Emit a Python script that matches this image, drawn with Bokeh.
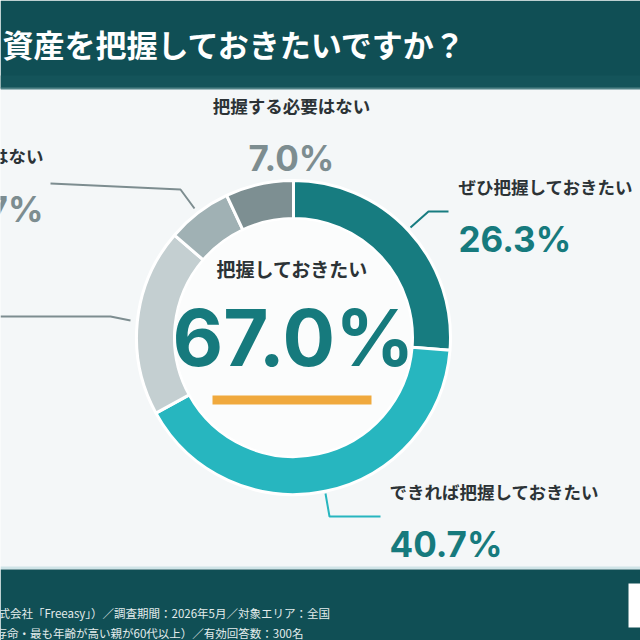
import numpy as np
from bokeh.plotting import figure
from bokeh.models import Range1d
from bokeh.core.properties import value
from bokeh.embed import file_html
from bokeh.resources import INLINE

# ---------------- data ----------------
title_text = "資産を把握しておきたいですか？"
categories = ["ぜひ把握しておきたい", "できれば把握しておきたい", "わからない",
              "あまり把握する必要はない", "把握する必要はない"]
values = [26.3, 40.7, 19.3, 6.7, 7.0]
center_label = "把握しておきたい"
center_value = values[0] + values[1]
footer_lines = ["式会社「Freeasy」）／調査期間：2026年5月／対象エリア：全国",
                "存命・最も年齢が高い親が60代以上）／有効回答数：300名"]

# ---------------- style ----------------
seg_colors = ["#177c80", "#27b6bf", "#c4cfd1", "#a0b1b4", "#7d8f92"]
pct_colors = ["#167a7d", "#167a7d", "#9aa9ac", "#7d8d90", "#7d8d90"]
W = H = 640
BG = "#f4f7f8"
DARK = "#104f55"
TXT = "#2c3336"
JP = "Noto Sans CJK JP"
NUM = "Inter"


def Y(y):
    return H - y


p = figure(width=W, height=H, x_range=Range1d(0, W), y_range=Range1d(0, H),
           output_backend="svg", toolbar_location=None, min_border=0)
p.axis.visible = False
p.grid.visible = False
p.outline_line_color = None
p.background_fill_color = BG
p.border_fill_color = BG

# header / footer
p.quad(left=[0], right=[W], top=[Y(0)], bottom=[Y(88)], fill_color=DARK, line_color=None)
p.quad(left=[0], right=[W], top=[Y(75)], bottom=[Y(88)], fill_color="#14545a", line_color=None)
p.quad(left=[0], right=[W], top=[Y(87)], bottom=[Y(89)], fill_color="#4f8286", line_color=None)
p.quad(left=[0], right=[W], top=[Y(566)], bottom=[Y(569)], fill_color="#cfe4e7", line_color=None)
p.quad(left=[0], right=[W], top=[Y(569)], bottom=[Y(640)], fill_color=DARK, line_color=None)
p.quad(left=[628], right=[W], top=[Y(583)], bottom=[Y(627)], fill_color="#ffffff", line_color=None)

p.text(x=[2], y=[Y(43)], text=[title_text], text_font=value(JP), text_font_size=value("31px"),
       text_font_style="bold", text_color="#ffffff", text_align="left", text_baseline="middle")

p.text(x=[-2, -5], y=[Y(612), Y(632)], text=footer_lines, text_font=value(JP),
       text_font_size=value("11.5px"), text_color="#e3ecec", text_align="left",
       text_baseline="middle")

# donut
cx, cy = 293, 337
r_out, r_in = 157, 119
cum = np.concatenate([[0], np.cumsum(values)]) / sum(values)
starts = np.pi / 2 - 2 * np.pi * cum[:-1]
ends = np.pi / 2 - 2 * np.pi * cum[1:]
p.annular_wedge(x=cx, y=Y(cy), inner_radius=r_in, outer_radius=r_out,
                inner_radius_units="screen", outer_radius_units="screen",
                start_angle=list(starts), end_angle=list(ends), direction="clock",
                fill_color=seg_colors, line_color="#ffffff", line_width=3)
p.scatter(x=[cx], y=[Y(cy)], size=2 * (r_in - 1), marker="circle",
          fill_color="#fbfcfc", line_color=None)

# center
p.text(x=[cx - 1], y=[Y(268)], text=[center_label], text_font=value(JP),
       text_font_size=value("19px"), text_font_style="bold", text_color=TXT,
       text_align="center", text_baseline="middle")
p.text(x=[cx], y=[Y(337)], text=[f"{center_value:.1f}%"], text_font=value(NUM),
       text_font_size=value("78px"), text_font_style="bold", text_color="#167a7d",
       text_align="center", text_baseline="middle")
p.quad(left=[212], right=[371], top=[Y(395)], bottom=[Y(404)], fill_color="#f0a93d",
       line_color=None)

# labels (layout); the "わからない" label lies outside the visible crop, as in the reference
shown = [0, 1, 3, 4]
lab_x = {0: 458, 1: 389, 3: 43, 4: 291}
lab_y = {0: 186, 1: 491, 3: 155, 4: 105}
pct_y = {0: 238, 1: 543, 3: 208, 4: 157}
lab_align = {0: "left", 1: "left", 3: "right", 4: "center"}
for i in shown:
    p.text(x=[lab_x[i]], y=[Y(lab_y[i])], text=[categories[i]], text_font=value(JP),
           text_font_size=value("17.5px"), text_font_style="bold", text_color=TXT,
           text_align=lab_align[i], text_baseline="middle")
    p.text(x=[lab_x[i]], y=[Y(pct_y[i])], text=[f"{values[i]:.1f}%"], text_font=value(NUM),
           text_font_size=value("35px"), text_font_style="bold", text_color=pct_colors[i],
           text_align=lab_align[i], text_baseline="middle")

# leader lines (layout)
leaders_x = [[410, 428, 448], [325, 329, 380], [0, 110, 130], [50, 180, 194]]
leaders_y = [[227, 211, 211], [493, 516, 516], [316, 316, 320], [183, 189, 208]]
leader_col = ["#177c80", "#27b6bf", "#7d8d90", "#7d8d90"]
p.multi_line(xs=leaders_x, ys=[[Y(v) for v in ys] for ys in leaders_y],
             line_color=leader_col, line_width=2)

open("out.html", "w").write(file_html(p, INLINE))
